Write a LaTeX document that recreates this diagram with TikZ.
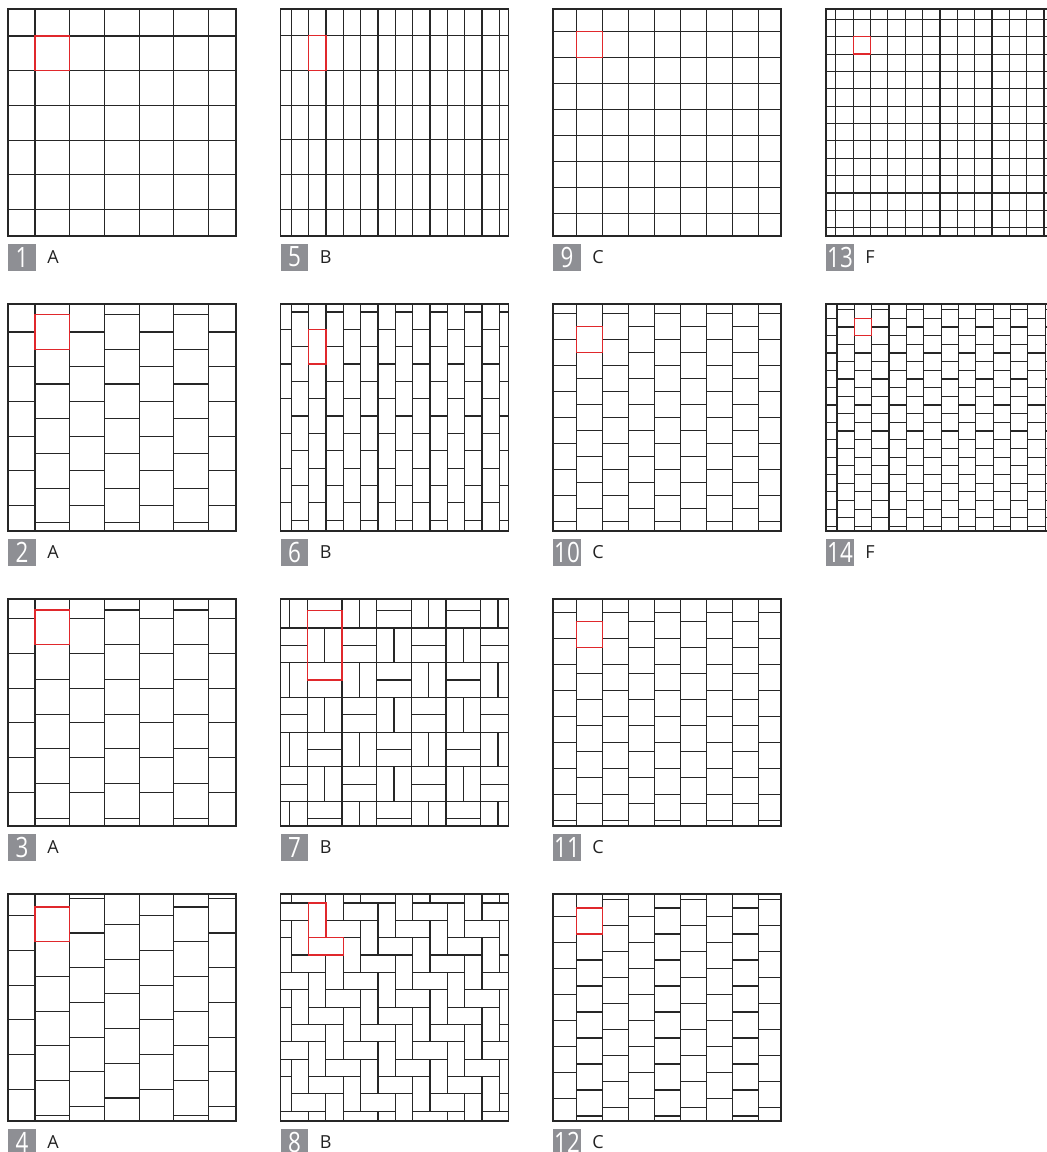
\documentclass[tikz,border=0pt]{standalone}
\usepackage{fontspec}
\usepackage{graphicx}
\setmainfont{Open Sans}
\usetikzlibrary{positioning}
\definecolor{tileline}{HTML}{262626}
\definecolor{markred}{HTML}{E0282C}
\definecolor{taggray}{HTML}{8E8F94}
\definecolor{kindtext}{HTML}{222222}

% origin x, origin y, tile w, tile h, x offset, y offset, alternate shift, stair shift
\newcommand{\bondpanel}[8]{%
  \begin{scope}[shift={(#1,#2)}]
    \clip (0,0) rectangle (228,227);
    \foreach \cc in {0,...,14}{
      \pgfmathsetmacro\xl{#5+(\cc-1)*#3}
      \pgfmathsetmacro\yo{#6+mod(\cc,2)*#7+\cc*#8}
      \pgfmathsetmacro\yo{\yo-floor(\yo/#4)*#4}
      \draw[tile] (\xl,0) -- (\xl,227);
      \foreach \kk in {-1,...,13}
        \draw[tile] (\xl,{\yo+\kk*#4}) -- ++(#3,0);
    }
  \end{scope}
  \draw[tile] (#1,#2) rectangle ++(228,227);
}

\begin{document}
\begin{tikzpicture}[x=1pt,y=-1pt,
    tile/.style={draw=tileline,line width=1.2pt},
    hilite/.style={draw=markred,line width=1.3pt},
    tagbox/.style={fill=taggray,text=white,inner sep=0pt,minimum width=27.7pt,
                   minimum height=27pt,anchor=north west,font=\fontsize{28}{28}\selectfont},
    tagkind/.style={text=kindtext,inner sep=0pt,anchor=west,font=\fontsize{18}{18}\selectfont}
  ]
  \useasboundingbox (0,0) rectangle (1047,1152);

  % type A
  \bondpanel{8}{9}{34.7}{34.7}{27}{27}{0}{0}
  \bondpanel{8}{304}{34.7}{34.7}{27}{28}{-17.35}{0}
  \bondpanel{8}{599}{34.7}{34.7}{27}{19.7}{-8.67}{0}
  \bondpanel{8}{894}{34.7}{34.7}{27}{21.7}{0}{-8.67}
  \draw[hilite] (35,36) rectangle ++(34.7,34.7);
  \draw[hilite] (35,314.65) rectangle ++(34.7,34.7);
  \draw[hilite] (35,610) rectangle ++(34.7,34.7);
  \draw[hilite] (35,907) rectangle ++(34.7,34.7);

  % type B
  \bondpanel{280.5}{9}{17.35}{34.7}{10.7}{26.7}{0}{0}
  \bondpanel{280.5}{304}{17.35}{34.7}{10.7}{25.3}{-17.35}{0}
  \begin{scope}[shift={(280.5,599)}]
    \clip (0,0) rectangle (228,227);
    \foreach \ii in {0,...,7}{
      \foreach \jj in {0,...,7}{
        \pgfmathsetmacro\bx{26.7+(\ii-1)*34.7}
        \pgfmathsetmacro\by{29+(\jj-1)*34.7}
        \draw[tile] (\bx,\by) rectangle ++(34.7,34.7);
        \pgfmathparse{int(mod(\ii+\jj,2))}
        \ifnum\pgfmathresult=0
          \draw[tile] ({\bx+17.35},\by) -- ++(0,34.7);
        \else
          \draw[tile] (\bx,{\by+17.35}) -- ++(34.7,0);
        \fi
      }
    }
  \end{scope}
  \draw[tile] (280.5,599) rectangle ++(228,227);
  \begin{scope}[shift={(280.5,894)}]
    \clip (0,0) rectangle (228,227);
    \foreach \mm in {-8,...,8}{
      \foreach \nn in {-2,...,7}{
        \pgfmathsetmacro\hx{28+(\mm+2*\nn)*17.35}
        \pgfmathsetmacro\hy{9+(2*\nn-\mm)*17.35}
        \draw[tile] (\hx,\hy) rectangle ++(17.35,34.7);
        \draw[tile] (\hx,{\hy+34.7}) rectangle ++(34.7,17.35);
      }
    }
  \end{scope}
  \draw[tile] (280.5,894) rectangle ++(228,227);
  \draw[hilite] (308.55,35.7) rectangle ++(17.35,34.7);
  \draw[hilite] (308.55,329.3) rectangle ++(17.35,34.7);
  \draw[hilite] (307.2,610.65) rectangle ++(34.7,69.4);
  \draw[hilite] (308.5,903) rectangle ++(17.35,34.7);
  \draw[hilite] (308.5,937.7) rectangle ++(34.7,17.35);

  % type C
  \bondpanel{553}{9}{26}{26}{23.7}{22.7}{0}{0}
  \bondpanel{553}{304}{26}{26}{23.7}{9.8}{13}{0}
  \bondpanel{553}{599}{26}{26}{23.7}{13.7}{8.67}{0}
  \bondpanel{553}{894}{26}{26}{23.7}{22.7}{0}{-8.67}
  \draw[hilite] (576.7,31.7) rectangle ++(26,26);
  \draw[hilite] (576.7,326.8) rectangle ++(26,26);
  \draw[hilite] (576.7,621.4) rectangle ++(26,26);
  \draw[hilite] (576.7,908) rectangle ++(26,26);

  % type F
  \bondpanel{826}{9}{17.35}{17.35}{9.8}{10.4}{0}{0}
  \bondpanel{826}{304}{17.35}{17.35}{11}{14.3}{-8.67}{0}
  \draw[hilite] (853.15,36.75) rectangle ++(17.35,17.35);
  \draw[hilite] (854.35,318.3) rectangle ++(17.35,17.35);

  % tags
  \foreach \num/\kind/\px/\py in {1/A/8/9,2/A/8/304,3/A/8/599,4/A/8/894,
      5/B/280.5/9,6/B/280.5/304,7/B/280.5/599,8/B/280.5/894,
      9/C/553/9,10/C/553/304,11/C/553/599,12/C/553/894,
      13/F/826/9,14/F/826/304}{
    \node[tagbox] (tag\num) at (\px,{\py+234.3}) {\scalebox{0.8}[1]{\num}};
    \node[tagkind,right=11pt of tag\num] (kind\num) {\kind};
  }
\end{tikzpicture}
\end{document}
